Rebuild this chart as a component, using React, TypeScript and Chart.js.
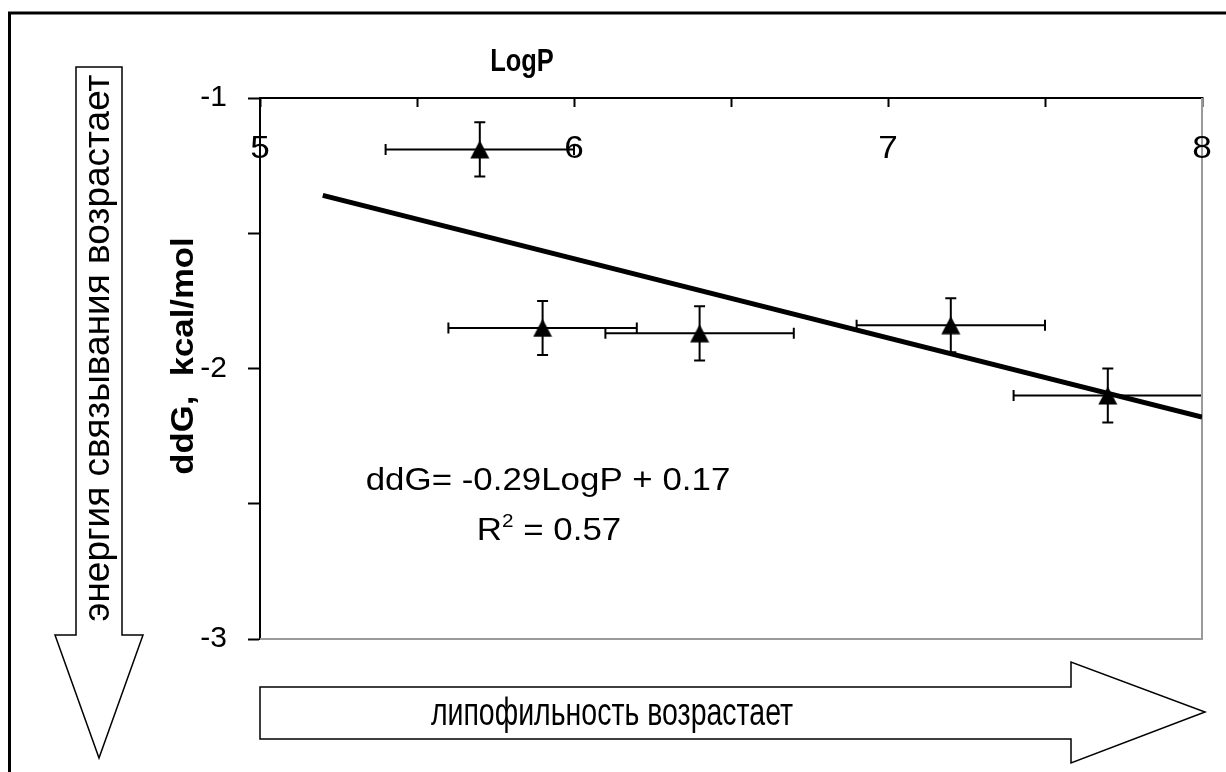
import React, { useEffect, useRef } from "react";
import { Chart, registerables } from "chart.js";

Chart.register(...registerables);

// ---- data ----
const logP = [5.7, 5.9, 6.4, 7.2, 7.7];
const ddG = [-1.19, -1.85, -1.87, -1.84, -2.1];
const logPErr = [0.3, 0.3, 0.3, 0.3, 0.3];
const ddGErr = [0.1, 0.1, 0.1, 0.1, 0.1];
const trendLogP = [5.2, 8.0];
const trendDdG = [-1.36, -2.18];

const xTitle = "LogP";
const yTitle = "ddG,  kcal/mol";
const equationText = "ddG= -0.29LogP + 0.17";
const r2Value = " = 0.57";
const leftArrowText = "энергия связывания возрастает";
const bottomArrowText = "липофильность возрастает";

const FONT = '"Liberation Sans", Arial, Helvetica, sans-serif';

function makeTriangle(): HTMLCanvasElement {
  const c = document.createElement("canvas");
  c.width = 20;
  c.height = 19;
  const g = c.getContext("2d")!;
  g.fillStyle = "#000";
  g.beginPath();
  g.moveTo(10, 0.5);
  g.lineTo(19.5, 18.5);
  g.lineTo(0.5, 18.5);
  g.closePath();
  g.fill();
  return c;
}

function drawText(
  ctx: CanvasRenderingContext2D,
  text: string,
  x: number,
  y: number,
  font: string,
  sx: number,
  rot = 0,
  align: CanvasTextAlign = "center",
  baseline: CanvasTextBaseline = "middle"
) {
  ctx.save();
  ctx.translate(x, y);
  if (rot) ctx.rotate(rot);
  ctx.scale(sx, 1);
  ctx.font = font;
  ctx.textAlign = align;
  ctx.textBaseline = baseline;
  ctx.fillStyle = "#000";
  ctx.fillText(text, 0, 0);
  ctx.restore();
}

const errorBars = {
  id: "errorBars",
  beforeDatasetsDraw(chart: any) {
    const { ctx, scales } = chart;
    const xs = scales.x;
    const ys = scales.y;
    const cap = 5.5;
    ctx.save();
    ctx.strokeStyle = "#000";
    ctx.lineWidth = 2;
    for (let i = 0; i < logP.length; i++) {
      const px = xs.getPixelForValue(logP[i]);
      const py = ys.getPixelForValue(ddG[i]);
      const x1 = xs.getPixelForValue(logP[i] - logPErr[i]);
      const x2 = xs.getPixelForValue(logP[i] + logPErr[i]);
      const y1 = ys.getPixelForValue(ddG[i] + ddGErr[i]);
      const y2 = ys.getPixelForValue(ddG[i] - ddGErr[i]);
      ctx.beginPath();
      ctx.moveTo(x1, py);
      ctx.lineTo(x2, py);
      ctx.moveTo(x1, py - cap);
      ctx.lineTo(x1, py + cap);
      ctx.moveTo(x2, py - cap);
      ctx.lineTo(x2, py + cap);
      ctx.moveTo(px, y1);
      ctx.lineTo(px, y2);
      ctx.moveTo(px - cap, y1);
      ctx.lineTo(px + cap, y1);
      ctx.moveTo(px - cap, y2);
      ctx.lineTo(px + cap, y2);
      ctx.stroke();
    }
    ctx.restore();
  },
};

const frameAndNotes = {
  id: "frameAndNotes",
  beforeDatasetsDraw(chart: any) {
    const { ctx, chartArea, scales } = chart;
    ctx.save();
    ctx.strokeStyle = "#9a9a9a";
    ctx.lineWidth = 2;
    ctx.beginPath();
    ctx.moveTo(chartArea.right, chartArea.top);
    ctx.lineTo(chartArea.right, chartArea.bottom);
    ctx.lineTo(chartArea.left, chartArea.bottom);
    ctx.stroke();
    ctx.restore();
    // x tick labels, drawn inside the plot just under the top axis
    const xs = scales.x;
    for (const t of xs.ticks) {
      if (!Number.isInteger(t.value)) continue;
      drawText(ctx, String(t.value), xs.getPixelForValue(t.value), chartArea.top + 51, `32px ${FONT}`, 1.1);
    }
  },
  afterDraw(chart: any) {
    const { ctx } = chart;
    ctx.save();
    // outer frame
    ctx.strokeStyle = "#000";
    ctx.lineWidth = 3;
    ctx.beginPath();
    ctx.moveTo(9.5, 772);
    ctx.lineTo(9.5, 13);
    ctx.lineTo(1226, 13);
    ctx.stroke();

    // left (down) arrow
    ctx.lineWidth = 1.5;
    ctx.fillStyle = "#fff";
    ctx.beginPath();
    ctx.moveTo(76, 67);
    ctx.lineTo(122, 67);
    ctx.lineTo(122, 635);
    ctx.lineTo(143, 635);
    ctx.lineTo(99, 758);
    ctx.lineTo(55, 635);
    ctx.lineTo(76, 635);
    ctx.closePath();
    ctx.fill();
    ctx.stroke();

    // bottom (right) arrow
    ctx.beginPath();
    ctx.moveTo(260, 687);
    ctx.lineTo(1071, 687);
    ctx.lineTo(1071, 662);
    ctx.lineTo(1205, 712);
    ctx.lineTo(1071, 763);
    ctx.lineTo(1071, 739);
    ctx.lineTo(260, 739);
    ctx.closePath();
    ctx.fill();
    ctx.stroke();
    ctx.restore();

    drawText(ctx, leftArrowText, 99, 348, `37px ${FONT}`, 1, -Math.PI / 2);
    drawText(ctx, bottomArrowText, 612, 715, `38px ${FONT}`, 0.75);
    drawText(ctx, yTitle, 184, 356, `bold 31px ${FONT}`, 1.12, -Math.PI / 2);
    drawText(ctx, xTitle, 522, 62, `bold 31px ${FONT}`, 0.82);

    // regression equation
    const sx = 1.09;
    drawText(ctx, equationText, 548, 490, `32px ${FONT}`, sx, 0, "center", "alphabetic");
    ctx.save();
    ctx.font = `32px ${FONT}`;
    const wR = ctx.measureText("R").width;
    const wRest = ctx.measureText(r2Value).width;
    ctx.font = `19px ${FONT}`;
    const w2 = ctx.measureText("2").width;
    ctx.restore();
    const total = (wR + w2 + wRest) * sx;
    const start = 549 - total / 2;
    drawText(ctx, "R", start, 540, `32px ${FONT}`, sx, 0, "left", "alphabetic");
    drawText(ctx, "2", start + wR * sx, 527, `19px ${FONT}`, sx, 0, "left", "alphabetic");
    drawText(ctx, r2Value, start + (wR + w2) * sx, 540, `32px ${FONT}`, sx, 0, "left", "alphabetic");
  },
};

export default function App() {
  const ref = useRef<HTMLCanvasElement | null>(null);
  useEffect(() => {
    if (!ref.current) return;
    const tri = makeTriangle();
    const chart = new Chart(ref.current, {
      type: "scatter",
      data: {
        datasets: [
          {
            label: "points",
            data: logP.map((x, i) => ({ x, y: ddG[i] })),
            pointStyle: tri as any,
            pointRadius: 10,
            showLine: false,
          },
          {
            label: "trend",
            data: trendLogP.map((x, i) => ({ x, y: trendDdG[i] })),
            showLine: true,
            borderColor: "#000",
            borderWidth: 5,
            pointRadius: 0,
            fill: false,
          },
        ],
      },
      options: {
        responsive: false,
        animation: false,
        events: [],
        layout: { padding: { left: 0, top: 0, right: 24, bottom: 133 } },
        plugins: { legend: { display: false }, tooltip: { enabled: false } },
        scales: {
          x: {
            type: "linear",
            position: "top",
            min: 5,
            max: 8,
            afterFit: (s: any) => {
              s.height = 98;
            },
            border: { display: true, color: "#000", width: 2 },
            grid: {
              display: true,
              drawOnChartArea: false,
              drawTicks: true,
              tickLength: -9,
              tickColor: "#000",
              tickWidth: 2,
            },
            ticks: {
              display: false,
              stepSize: 0.5,
              autoSkip: false,
              maxRotation: 0,
              minRotation: 0,
            },
          },
          y: {
            type: "linear",
            position: "left",
            min: -3,
            max: -1,
            afterFit: (s: any) => {
              s.width = 260;
            },
            border: { display: true, color: "#000", width: 2 },
            grid: {
              display: true,
              drawOnChartArea: false,
              drawTicks: true,
              tickLength: 12,
              tickColor: "#000",
              tickWidth: 2,
            },
            ticks: {
              stepSize: 0.5,
              autoSkip: false,
              padding: 21,
              color: "#000",
              font: { family: FONT, size: 30 },
              callback: (v: any) => (Number.isInteger(v) ? String(v) : ""),
            },
          },
        },
      },
      plugins: [errorBars, frameAndNotes],
    });
    return () => chart.destroy();
  }, []);
  return (
    <div style={{ position: "fixed", left: 0, top: 0, width: 1226, height: 772, background: "#fff" }}>
      <canvas ref={ref} width={1226} height={772} style={{ display: "block" }} />
    </div>
  );
}
